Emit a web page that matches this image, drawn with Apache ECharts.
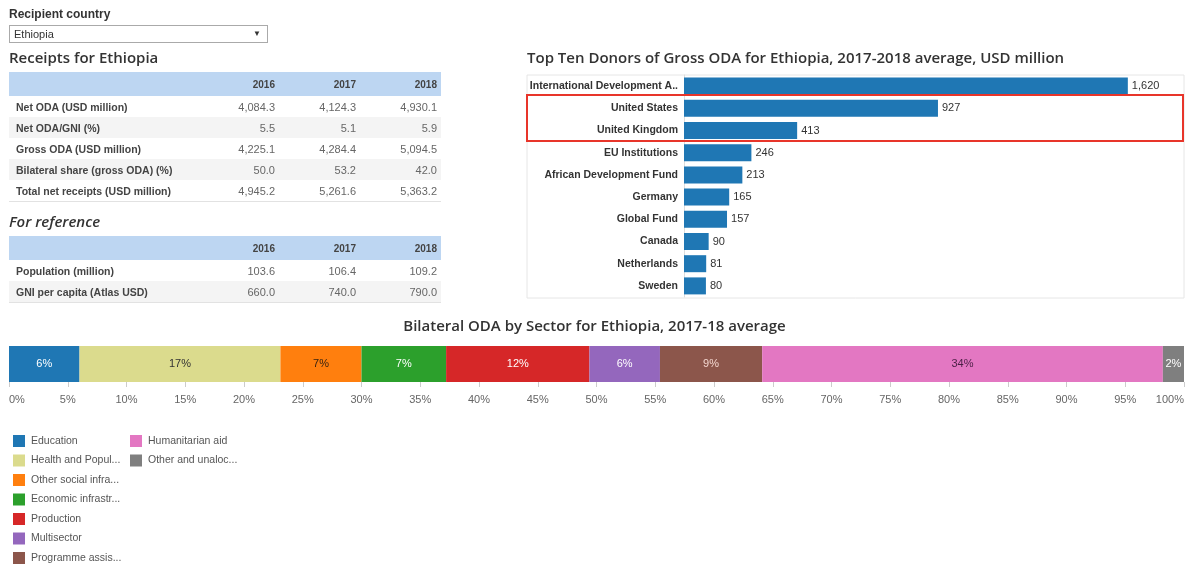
<!DOCTYPE html>
<html>
<head>
<meta charset="utf-8">
<script src="https://cdn.jsdelivr.net/npm/echarts@6/dist/echarts.min.js"></script>
<style>
  body { margin: 0; background: #fff; font-family: "Liberation Sans", Arial, sans-serif; color: #333; }
  #chart { position: absolute; left: 0; top: 0; width: 1189px; height: 565px; }
  .abs { position: absolute; }
  .lbl { left: 9px; top: 7px; font-size: 12px; font-weight: bold; color: #333; }
  .sel { left: 9px; top: 25px; width: 257px; height: 16px; border: 1px solid #aaa; font-size: 11px; line-height: 16px; box-sizing: content-box; }
  .sel span { position: absolute; left: 4px; top: 0; }
  .sel i { position: absolute; right: 6px; top: 0; font-style: normal; font-size: 8px; }
  .h { font-family: "Open Sans", sans-serif; font-weight: 600; font-size: 15px; color: #333; }
  table { border-collapse: collapse; width: 432px; font-size: 10px; }
  th { background: #bdd6f2; height: 24px; text-align: right; padding: 0 4px; font-weight: bold; color: #444; }
  td { height: 21px; padding: 0 4px; text-align: right; color: #666; font-size: 11px; }
  td.n { text-align: left; font-weight: bold; color: #444; padding-left: 7px; font-size: 10.5px; }
  tr.g td { background: #f4f4f4; }
  tr:last-child td { border-bottom: 1px solid #e2e2e2; }
</style>
</head>
<body>
<div id="chart"></div>
<div class="abs lbl">Recipient country</div>
<div class="abs sel"><span>Ethiopia</span><i>&#9660;</i></div>
<div class="abs h" style="left:9px;top:47px;">Receipts for Ethiopia</div>
<div class="abs" style="left:9px;top:72px;" id="t1"></div>
<div class="abs h" style="left:9px;top:211px;font-style:italic;">For reference</div>
<div class="abs" style="left:9px;top:236px;" id="t2"></div>
<script>
const years = ['2016', '2017', '2018'];
const receiptRows = ['Net ODA (USD million)', 'Net ODA/GNI (%)', 'Gross ODA (USD million)', 'Bilateral share (gross ODA) (%)', 'Total net receipts (USD million)'];
const receiptValues = [
  [4084.3, 4124.3, 4930.1],
  [5.5, 5.1, 5.9],
  [4225.1, 4284.4, 5094.5],
  [50.0, 53.2, 42.0],
  [4945.2, 5261.6, 5363.2]
];
const refRows = ['Population (million)', 'GNI per capita (Atlas USD)'];
const refValues = [
  [103.6, 106.4, 109.2],
  [660.0, 740.0, 790.0]
];

const donors = ['International Development Association', 'United States', 'United Kingdom', 'EU Institutions', 'African Development Fund', 'Germany', 'Global Fund', 'Canada', 'Netherlands', 'Sweden'];
const donorValues = [1620, 927, 413, 246, 213, 165, 157, 90, 81, 80];

const sectors = ['Education', 'Health and Population', 'Other social infrastructure', 'Economic infrastructure', 'Production', 'Multisector', 'Programme assistance', 'Humanitarian aid', 'Other and unalocated'];
const sectorShares = [6.0, 17.1, 6.9, 7.2, 12.2, 6.0, 8.7, 34.1, 1.8];
const sectorColors = ['#1f77b4', '#dbdb8d', '#ff7f0e', '#2ca02c', '#d62728', '#9467bd', '#8c564b', '#e377c2', '#7f7f7f'];
const sectorLabelColors = ['#fff', '#333', '#3a2410', '#fff', '#fff', '#fff', '#f3d6cf', '#4a1f45', '#fff'];

function fmt1(v) {
  return v.toLocaleString('en-US', { minimumFractionDigits: 1, maximumFractionDigits: 1 });
}

function buildTable(id, rows, values) {
  let html = '<table><tr><th style="width:181px"></th>';
  years.forEach(y => { html += '<th style="width:73px">' + y + '</th>'; });
  html += '</tr>';
  rows.forEach((r, i) => {
    html += '<tr' + (i % 2 === 1 ? ' class="g"' : '') + '><td class="n">' + r + '</td>';
    values[i].forEach(v => { html += '<td>' + fmt1(v) + '</td>'; });
    html += '</tr>';
  });
  html += '</table>';
  document.getElementById(id).innerHTML = html;
}
buildTable('t1', receiptRows, receiptValues);
buildTable('t2', refRows, refValues);

// cut legend names to a pixel width, like the dashboard does
const measureCtx = document.createElement('canvas').getContext('2d');
measureCtx.font = '10.5px "Liberation Sans"';
function cutName(name, maxW) {
  if (measureCtx.measureText(name).width <= maxW) return name;
  let s = name;
  while (s.length > 1 && measureCtx.measureText(s + '...').width > maxW) s = s.slice(0, -1);
  return s.replace(/\s+$/, '') + '...';
}

const chart = echarts.init(document.getElementById('chart'));

const sectorSeries = sectors.map((s, i) => ({
  name: s,
  type: 'bar',
  stack: 'share',
  xAxisIndex: 1,
  yAxisIndex: 1,
  barWidth: 36,
  data: [sectorShares[i]],
  itemStyle: { color: sectorColors[i] },
  label: {
    show: true,
    position: 'inside',
    formatter: p => Math.round(p.value) + '%',
    color: sectorLabelColors[i],
    fontSize: 11,
    fontFamily: 'Liberation Sans'
  }
}));

const legendBase = { orient: 'vertical', top: 435, height: 140, padding: 0, itemWidth: 12, itemHeight: 12, itemGap: 7.5,
  icon: 'rect', selectedMode: false, formatter: n => cutName(n, 91),
  textStyle: { fontSize: 10.5, color: '#555', fontFamily: 'Liberation Sans', padding: [0, 0, 0, 1] } };

chart.setOption({
  animation: false,
  textStyle: { fontFamily: 'Liberation Sans' },
  title: [
    { text: 'Top Ten Donors of Gross ODA for Ethiopia, 2017-2018 average, USD million', left: 527, top: 51, padding: 0,
      textStyle: { fontFamily: 'Open Sans', fontWeight: 600, fontSize: 15, color: '#333' } },
    { text: 'Bilateral ODA by Sector for Ethiopia, 2017-18 average', left: 'center', top: 319, padding: 0,
      textStyle: { fontFamily: 'Open Sans', fontWeight: 600, fontSize: 15, color: '#333' } }
  ],
  legend: [
    Object.assign({ data: sectors.slice(0, 7), left: 13 }, legendBase),
    Object.assign({ data: sectors.slice(7), left: 130 }, legendBase)
  ],
  grid: [
    { left: 684, top: 75, width: 500, height: 222 },
    { left: 9, top: 346, width: 1175, height: 36 }
  ],
  xAxis: [
    { gridIndex: 0, type: 'value', min: 0, max: 1825, show: false },
    { gridIndex: 1, type: 'value', min: 0, max: 100, interval: 5,
      axisLine: { show: false },
      axisTick: { show: true, length: 5, lineStyle: { color: '#ccc' } },
      splitLine: { show: false },
      axisLabel: { formatter: '{value}%', color: '#666', fontSize: 11, margin: 12, alignMinLabel: 'left', alignMaxLabel: 'right' } }
  ],
  yAxis: [
    { gridIndex: 0, type: 'category', data: donors, inverse: true,
      axisLine: { show: true, lineStyle: { color: '#ddd' } },
      axisTick: { show: false },
      axisLabel: { color: '#333', fontSize: 10.5, fontWeight: 'bold', margin: 6, width: 155, overflow: 'truncate', ellipsis: '..' } },
    { gridIndex: 1, type: 'category', data: ['share'], show: false }
  ],
  graphic: [
    { type: 'rect', shape: { x: 527, y: 75, width: 657, height: 223 }, style: { fill: 'none', stroke: '#e6e6e6', lineWidth: 1 }, silent: true },
    { type: 'rect', shape: { x: 527, y: 95, width: 656, height: 46 }, style: { fill: 'none', stroke: '#e8352a', lineWidth: 2 }, silent: true, z: 10 }
  ],
  series: [
    {
      type: 'bar',
      xAxisIndex: 0,
      yAxisIndex: 0,
      data: donorValues,
      barWidth: 17,
      itemStyle: { color: '#1f77b4' },
      label: { show: true, position: 'right', distance: 4, color: '#333', fontSize: 11,
        formatter: p => p.value.toLocaleString('en-US') }
    }
  ].concat(sectorSeries)
});
</script>
</body>
</html>
